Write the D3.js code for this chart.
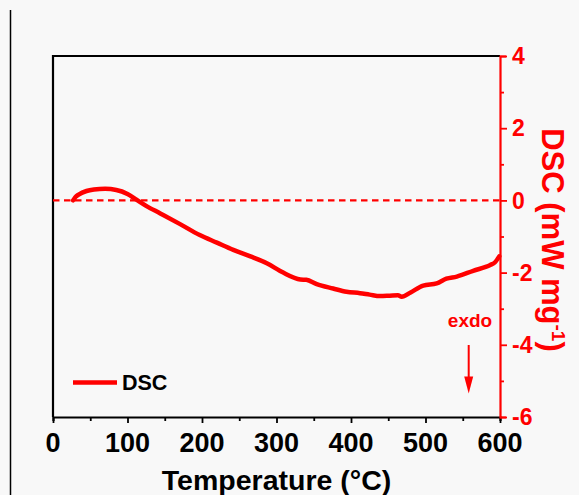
<!DOCTYPE html>
<html>
<head>
<meta charset="utf-8">
<script src="https://cdn.jsdelivr.net/npm/d3@7"></script>
<style>
  html, body { margin: 0; padding: 0; background: #f8f8f8; }
  svg { display: block; }
  text { font-family: "Liberation Sans", Arial, sans-serif; }
</style>
</head>
<body>
<svg id="chart" width="579" height="495"></svg>
<script>
// DSC trace: temperature (°C) and heat flow (mW mg^-1)
const temperature = [27, 30, 35, 45, 55, 70, 85, 100, 112, 125, 144, 170, 197, 220, 242, 265, 287, 309, 332, 340, 354, 376, 394, 412, 425, 439, 452, 463, 468, 480, 497, 515, 528, 542, 564, 587, 593, 599];
const heatFlow    = [0.0, 0.09, 0.17, 0.26, 0.30, 0.32, 0.29, 0.18, 0.02, -0.15, -0.36, -0.65, -0.96, -1.17, -1.37, -1.55, -1.74, -2.0, -2.19, -2.2, -2.32, -2.44, -2.53, -2.57, -2.61, -2.65, -2.64, -2.63, -2.67, -2.55, -2.36, -2.30, -2.17, -2.11, -1.95, -1.79, -1.72, -1.55];
const xTicks = [0, 100, 200, 300, 400, 500, 600];
const yTicks = [-6, -4, -2, 0, 2, 4];
const seriesName = "DSC";

const svg = d3.select("#chart");
const red = "#ff0000";
const m = { left: 53, right: 500, top: 56, bottom: 417 };

const x = d3.scaleLinear().domain([0, 600]).range([m.left, m.right]);
const y = d3.scaleLinear().domain([-6, 4]).range([m.bottom, m.top]);

// thin rule down the left edge
svg.append("line").attr("x1", 10.5).attr("x2", 10.5).attr("y1", 10).attr("y2", 495)
  .attr("stroke", "#000").attr("stroke-width", 1.5);

// frame: left and top edges
svg.append("path")
  .attr("d", `M${m.left},${m.bottom} V${m.top} H${m.right}`)
  .attr("fill", "none").attr("stroke", "#000").attr("stroke-width", 2.2);

// bottom axis
const xAxis = svg.append("g").attr("transform", `translate(0,${m.bottom})`);
xAxis.call(d3.axisBottom(x).tickValues(d3.range(0, 601, 50)).tickFormat("").tickSizeOuter(0)
  .tickSize(4))
  .call(g => g.select(".domain").attr("stroke-width", 2.2))
  .call(g => g.selectAll(".tick line").attr("stroke-width", 1.8)
    .attr("y2", d => xTicks.includes(d) ? 6 : 4));
xAxis.selectAll(".tick text").remove();
xAxis.selectAll(".xlab").data(xTicks).join("text")
  .attr("x", d => x(d)).attr("y", 35)
  .attr("text-anchor", "middle").attr("font-size", 27).attr("font-weight", "bold")
  .attr("fill", "#000").text(d => d);

svg.append("text").attr("x", (m.left + m.right) / 2).attr("y", 490)
  .attr("text-anchor", "middle").attr("font-size", 28.5).attr("font-weight", "bold")
  .attr("fill", "#000").text("Temperature (°C)");

// right axis (red)
const yAxis = svg.append("g").attr("transform", `translate(${m.right},0)`);
yAxis.call(d3.axisRight(y).tickValues(d3.range(-6, 5, 1)).tickFormat("").tickSizeOuter(0).tickSize(6))
  .call(g => g.select(".domain").attr("stroke", red).attr("stroke-width", 2.2))
  .call(g => g.selectAll(".tick line").attr("stroke", red).attr("stroke-width", 1.8)
    .attr("x2", d => yTicks.includes(d) ? 7 : 4));
yAxis.selectAll(".tick text").remove();
yAxis.selectAll(".ylab").data(yTicks).join("text")
  .attr("x", 12).attr("y", d => y(d)).attr("dy", "0.36em")
  .attr("font-size", 23).attr("font-weight", "bold").attr("fill", red)
  .text(d => d < 0 ? "-" + Math.abs(d) : d);

const yTitle = svg.append("text")
  .attr("transform", `translate(542,240) rotate(90)`)
  .attr("text-anchor", "middle").attr("font-size", 31).attr("font-weight", "bold").attr("fill", red);
yTitle.append("tspan").text("DSC (mW mg");
yTitle.append("tspan").attr("baseline-shift", "super").attr("font-size", 19).text("-1");
yTitle.append("tspan").text(")");

// zero reference
svg.append("line").attr("x1", m.left).attr("x2", m.right).attr("y1", y(0)).attr("y2", y(0))
  .attr("stroke", red).attr("stroke-width", 2.4).attr("stroke-dasharray", "6.5,4.5");

// DSC curve
const pts = temperature.map((t, i) => [t, heatFlow[i]]);
svg.append("path").datum(pts)
  .attr("fill", "none").attr("stroke", red).attr("stroke-width", 4.5)
  .attr("stroke-linejoin", "round").attr("stroke-linecap", "round")
  .attr("d", d3.line().x(d => x(d[0])).y(d => y(d[1])).curve(d3.curveMonotoneX));

// legend
svg.append("line").attr("x1", 73).attr("x2", 117).attr("y1", 382.5).attr("y2", 382.5)
  .attr("stroke", red).attr("stroke-width", 4.5);
svg.append("text").attr("x", 122).attr("y", 389.5)
  .attr("font-size", 21.5).attr("font-weight", "bold").attr("fill", "#000").text(seriesName);

// exo/endo direction marker
svg.append("text").attr("x", 470).attr("y", 327)
  .attr("text-anchor", "middle").attr("font-size", 19).attr("font-weight", "bold")
  .attr("fill", red).text("exdo");
svg.append("line").attr("x1", 468.7).attr("x2", 468.7).attr("y1", 345).attr("y2", 380)
  .attr("stroke", red).attr("stroke-width", 2);
svg.append("path").attr("d", "M464.2,376.5 L473.2,376.5 L468.7,393.5 Z").attr("fill", red);
</script>
</body>
</html>
